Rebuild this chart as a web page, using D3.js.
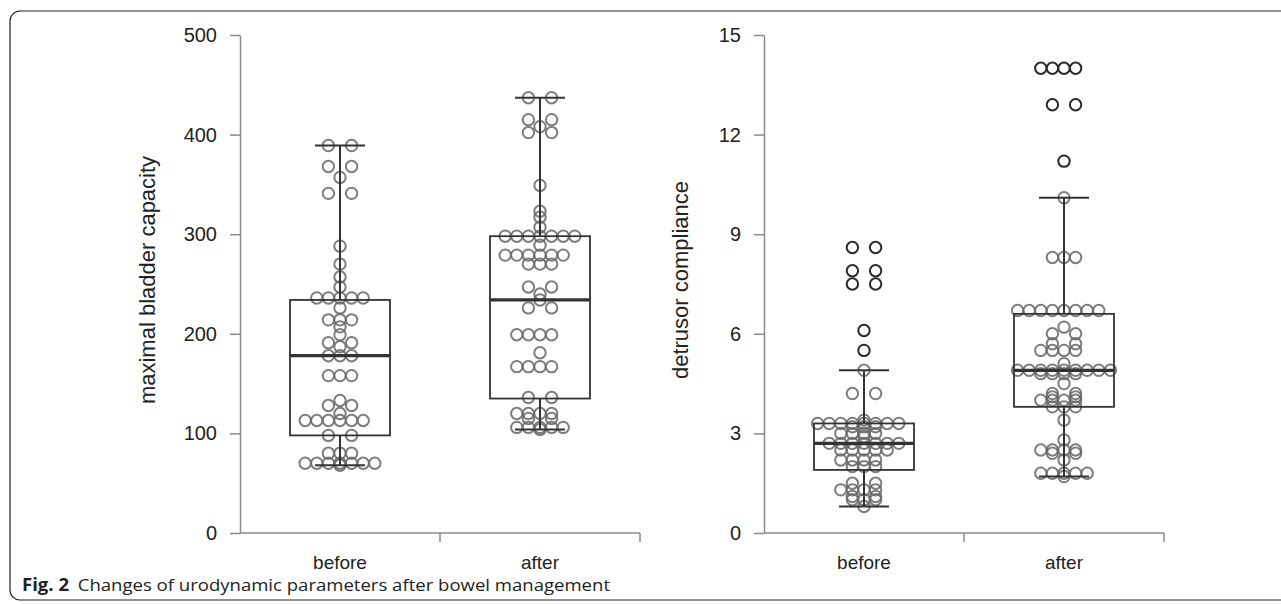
<!DOCTYPE html>
<html>
<head>
  <meta charset="utf-8">
  <script src="https://d3js.org/d3.v7.min.js"></script>
  <style>
    body { margin: 0; background: #fff; }
    svg { display: block; }
    .tick text { font-family: "Liberation Sans", Arial, sans-serif; font-size: 20px; fill: #222; }
    .axis path, .axis line { stroke: #8a8a8a; stroke-width: 1.5px; }
    .ylabel { font-family: "Liberation Sans", Arial, sans-serif; font-size: 22px; fill: #222; text-anchor: middle; }
    .caption { font-family: "Open Sans", sans-serif; font-size: 17px; fill: #222; }
  </style>
</head>
<body>
  <svg id="chart" width="1281" height="604"></svg>
  <script>
    // categorias
    const groups = ["before", "after"];

    // capacidade vesical maxima
    const capacityBefore = [389, 389, 368, 368, 357, 341, 341, 288, 270, 257, 247,
      236, 236, 236, 236, 236, 226, 214, 214, 214, 207, 199, 191, 191, 187,
      178, 178, 178, 158, 158, 158, 133, 128, 128, 120,
      113, 113, 113, 113, 113, 113, 98, 98, 80, 80, 80,
      70, 70, 70, 70, 70, 70, 70, 68];
    const capacityAfter = [437, 437, 415, 415, 408, 402, 402, 349, 323, 317, 307,
      298, 298, 298, 298, 298, 298, 298, 289, 279, 279, 279, 279, 279, 279,
      270, 270, 270, 247, 247, 240, 234, 226, 226, 199, 199, 199, 199, 181,
      167, 167, 167, 167, 136, 136, 120, 120, 120, 120, 115, 115,
      106, 106, 106, 106, 106, 104];

    // complacencia do detrusor
    const complianceBefore = [8.6, 8.6, 7.9, 7.9, 7.5, 7.5, 6.1, 5.5, 4.9, 4.2, 4.2, 3.4,
      3.3, 3.3, 3.3, 3.3, 3.3, 3.3, 3.3, 3.3, 3.2, 3.2, 3.2, 3.0, 3.0, 3.0, 3.0, 2.9,
      2.7, 2.7, 2.7, 2.7, 2.7, 2.7, 2.7, 2.5, 2.5, 2.5, 2.5, 2.5,
      2.2, 2.2, 2.2, 2.2, 2.0, 2.0, 2.0, 1.5, 1.5, 1.3, 1.3, 1.3, 1.3,
      1.1, 1.1, 1.0, 1.0, 1.0, 0.8];
    const complianceAfter = [14.0, 14.0, 14.0, 14.0, 12.9, 12.9, 11.2, 10.1, 8.3, 8.3, 8.3,
      6.7, 6.7, 6.7, 6.7, 6.7, 6.7, 6.7, 6.7, 6.2, 6.0, 6.0, 5.7, 5.7, 5.5, 5.5, 5.5, 5.5, 5.1,
      4.9, 4.9, 4.9, 4.9, 4.9, 4.9, 4.9, 4.9, 4.9, 4.8, 4.8, 4.8, 4.8, 4.5, 4.2, 4.2, 4.1, 4.1,
      4.0, 4.0, 4.0, 4.0, 3.8, 3.8, 3.8, 3.4, 2.8, 2.5, 2.5, 2.5, 2.5, 2.4, 2.4, 2.2,
      1.8, 1.8, 1.8, 1.8, 1.8, 1.7];

    // estatisticas do boxplot: [min, q1, mediana, q3, max]
    const capacityBoxBefore = [68, 98, 178, 234, 389];
    const capacityBoxAfter = [104, 135, 234, 298, 437];
    const complianceBoxBefore = [0.8, 1.9, 2.7, 3.3, 4.9];
    const complianceBoxAfter = [1.7, 3.8, 4.9, 6.6, 10.1];

    const capacityTicks = [0, 100, 200, 300, 400, 500];
    const complianceTicks = [0, 3, 6, 9, 12, 15];

    const svg = d3.select("#chart");
    const unit = 11.6; // distancia entre pontos lado a lado

    // moldura da figura
    svg.append("rect")
      .attr("x", 10).attr("y", 11)
      .attr("width", 1320).attr("height", 589)
      .attr("rx", 10)
      .attr("fill", "none")
      .attr("stroke", "#222")
      .attr("stroke-width", 1.2);

    // distribui pontos de mesmo valor lado a lado
    function spread(values) {
      const counts = d3.rollup(values, v => v.length, d => d);
      const seen = new Map();
      return values.map(v => {
        const n = counts.get(v);
        const i = seen.get(v) || 0;
        seen.set(v, i + 1);
        let k;
        if (n === 2) k = i === 0 ? -1 : 1;
        else k = i === 0 ? 0 : (i % 2 === 1 ? -Math.ceil(i / 2) : i / 2);
        return { v, k };
      });
    }

    function panel(x0, x1, domain, ticks, label, labelX, data, boxes) {
      const x = d3.scaleBand().domain(groups).range([x0, x1]);
      const y = d3.scaleLinear().domain(domain).range([533, 35]);
      const g = svg.append("g");

      g.append("g").attr("class", "axis")
        .attr("transform", `translate(${x0},0)`)
        .call(d3.axisLeft(y).tickValues(ticks).tickSize(10).tickPadding(13).tickSizeOuter(0));

      // eixo x com marcas nas divisas das categorias
      const xa = g.append("g").attr("class", "axis");
      xa.append("line").attr("x1", x0).attr("x2", x1).attr("y1", 533).attr("y2", 533);
      xa.selectAll("line.t").data(groups).join("line")
        .attr("class", "t")
        .attr("x1", d => x(d) + x.bandwidth()).attr("x2", d => x(d) + x.bandwidth())
        .attr("y1", 533).attr("y2", 542);
      xa.selectAll("text").data(groups).join("text")
        .attr("x", d => x(d) + x.bandwidth() / 2)
        .attr("y", 569)
        .attr("text-anchor", "middle")
        .style("font-family", "'Liberation Sans', Arial, sans-serif")
        .style("font-size", "19px")
        .style("fill", "#222")
        .text(d => d);

      g.append("text").attr("class", "ylabel")
        .attr("transform", `translate(${labelX},280) rotate(-90)`)
        .text(label);

      groups.forEach((grp, gi) => {
        const cx = x(grp) + x.bandwidth() / 2;
        const st = boxes[gi];
        const pts = spread(data[gi]);

        g.append("g").selectAll("circle").data(pts).join("circle")
          .attr("cx", d => cx + d.k * unit)
          .attr("cy", d => y(d.v))
          .attr("r", 5.7)
          .attr("fill", "none")
          .attr("stroke", d => (d.v > st[4] || d.v < st[0]) ? "#2a2a2a" : "#666")
          .attr("stroke-opacity", d => (d.v > st[4] || d.v < st[0]) ? 1 : 0.85)
          .attr("stroke-width", 2);

        const bw = x.bandwidth() / 2;
        const b = g.append("g").attr("stroke", "#333").attr("fill", "none");
        b.append("line").attr("x1", cx).attr("x2", cx).attr("y1", y(st[0])).attr("y2", y(st[1])).attr("stroke-width", 2);
        b.append("line").attr("x1", cx).attr("x2", cx).attr("y1", y(st[3])).attr("y2", y(st[4])).attr("stroke-width", 2);
        b.append("line").attr("x1", cx - bw / 4).attr("x2", cx + bw / 4).attr("y1", y(st[0])).attr("y2", y(st[0])).attr("stroke-width", 2);
        b.append("line").attr("x1", cx - bw / 4).attr("x2", cx + bw / 4).attr("y1", y(st[4])).attr("y2", y(st[4])).attr("stroke-width", 2);
        b.append("rect")
          .attr("x", cx - bw / 2).attr("y", y(st[3]))
          .attr("width", bw).attr("height", y(st[1]) - y(st[3]))
          .attr("stroke-width", 1.8);
        b.append("line").attr("x1", cx - bw / 2).attr("x2", cx + bw / 2)
          .attr("y1", y(st[2])).attr("y2", y(st[2])).attr("stroke-width", 3.2);
      });
    }

    panel(240, 640, [0, 500], capacityTicks, "maximal bladder capacity", 155,
      [capacityBefore, capacityAfter], [capacityBoxBefore, capacityBoxAfter]);
    panel(764, 1164, [0, 15], complianceTicks, "detrusor compliance", 688,
      [complianceBefore, complianceAfter], [complianceBoxBefore, complianceBoxAfter]);

    // legenda da figura
    const cap = svg.append("text").attr("class", "caption").attr("x", 22).attr("y", 591)
      .attr("textLength", 588).attr("lengthAdjust", "spacingAndGlyphs");
    cap.append("tspan").attr("font-weight", "bold").text("Fig. 2");
    cap.append("tspan").attr("dx", 8).text("Changes of urodynamic parameters after bowel management");
  </script>
</body>
</html>
